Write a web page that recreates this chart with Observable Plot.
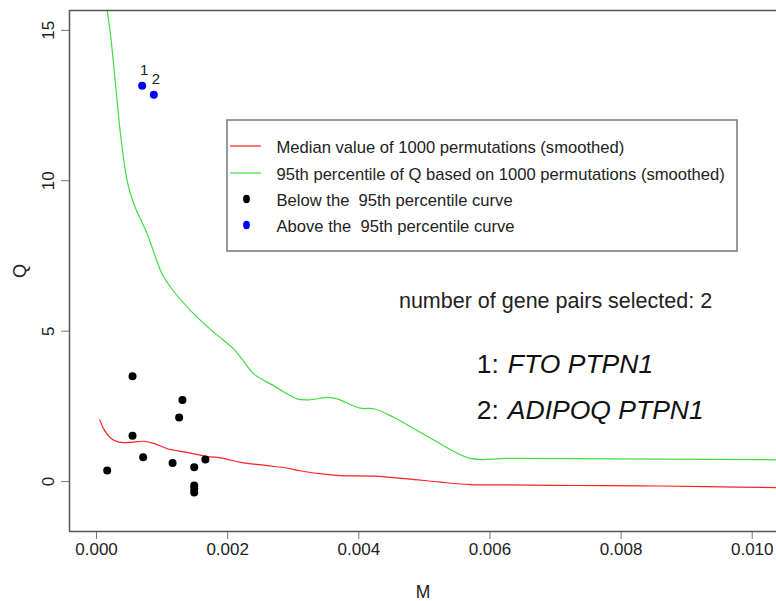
<!DOCTYPE html>
<html>
<head>
<meta charset="utf-8">
<script src="https://cdn.jsdelivr.net/npm/d3@7"></script>
<script src="https://cdn.jsdelivr.net/npm/@observablehq/plot@0.6"></script>
<style>
  html, body { margin: 0; padding: 0; background: #fff; }
  #wrap { position: relative; width: 776px; height: 601px; overflow: hidden; font-family: "Liberation Sans", Arial, Helvetica, sans-serif; }
  #wrap svg.overlay { position: absolute; left: 0; top: 0; pointer-events: none; }
  #wrap svg.overlay text { white-space: pre; }
</style>
</head>
<body>
<div id="wrap"></div>
<script>
// ---- data ----
const medianM = [0.00005, 0.000122, 0.000213, 0.00034, 0.00049, 0.00072, 0.000874, 0.00108, 0.00138, 0.00169, 0.00189, 0.0022, 0.0026, 0.0029, 0.0031, 0.0035, 0.00372, 0.00423, 0.00474, 0.00524, 0.0057, 0.00626, 0.00728, 0.00829, 0.00931, 0.0104];
const medianQ = [2.05, 1.70, 1.45, 1.31, 1.30, 1.34, 1.27, 1.09, 0.97, 0.83, 0.79, 0.64, 0.53, 0.45, 0.36, 0.24, 0.20, 0.18, 0.09, -0.02, -0.10, -0.11, -0.13, -0.14, -0.17, -0.20];

const p95M = [0.00013, 0.000163, 0.000213, 0.00029, 0.000366, 0.000467, 0.000569, 0.000773, 0.001, 0.00113, 0.00141, 0.00159, 0.00179, 0.00209, 0.0022, 0.0024, 0.0027, 0.00306, 0.00326, 0.00352, 0.00367, 0.00402, 0.00423, 0.00453, 0.00509, 0.0057, 0.00626, 0.00728, 0.01012, 0.0104];
const p95Q = [16.3, 15.67, 14.87, 13.21, 11.55, 10.0, 9.23, 8.23, 6.90, 6.46, 5.74, 5.35, 4.96, 4.41, 4.13, 3.58, 3.19, 2.75, 2.72, 2.80, 2.75, 2.44, 2.42, 2.14, 1.45, 0.77, 0.77, 0.76, 0.73, 0.72];

const belowM = [0.000549, 0.00131, 0.00126, 0.000549, 0.000711, 0.00116, 0.00166, 0.00149, 0.000163, 0.00149, 0.00149, 0.00149];
const belowQ = [3.50, 2.71, 2.13, 1.52, 0.81, 0.62, 0.73, 0.48, 0.37, -0.13, -0.24, -0.36];

const aboveM = [0.000696, 0.000874];
const aboveQ = [13.16, 12.86];
const aboveLabels = ["1", "2"];

const geneNums = ["1:", "2:"];
const geneNames = ["FTO PTPN1", "ADIPOQ PTPN1"];
const geneM = [0.0058, 0.0058];
const geneQ = [3.9, 2.35];
const countText = "number of gene pairs selected: 2";
const countM = [0.0070];
const countQ = [6.0];

const xTicks = [0, 0.002, 0.004, 0.006, 0.008, 0.010];
const yTicks = [0, 5, 10, 15];
const xDomain = [-0.000412, 0.01037];
const yDomain = [-1.66, 15.66];
const xLabel = "M";
const yLabel = "Q";

const legendLabels = [
  "Median value of 1000 permutations (smoothed)",
  "95th percentile of Q based on 1000 permutations (smoothed)",
  "Below the  95th percentile curve",
  "Above the  95th percentile curve"
];

const RED = "#ff2020", GREEN = "#40dd40", BLACK = "#000", BLUE = "#0000ff", AXIS = "#555";

const median = medianM.map((m, i) => ({M: m, Q: medianQ[i]}));
const p95 = p95M.map((m, i) => ({M: m, Q: p95Q[i]}));
const below = belowM.map((m, i) => ({M: m, Q: belowQ[i]}));
const above = aboveM.map((m, i) => ({M: m, Q: aboveQ[i], label: aboveLabels[i]}));
const genes = geneM.map((m, i) => ({M: m, Q: geneQ[i], num: geneNums[i], name: geneNames[i]}));
const counts = countM.map((m, i) => ({M: m, Q: countQ[i], t: countText}));

const font = "Liberation Sans, Arial, Helvetica, sans-serif";

const chart = Plot.plot({
  width: 776, height: 601,
  marginLeft: 69, marginRight: 0, marginTop: 10, marginBottom: 70,
  x: {domain: xDomain},
  y: {domain: yDomain},
  style: {fontFamily: font, fontSize: "17px", color: "#222", background: "#fff", overflow: "hidden"},
  marks: [
    Plot.axisX({ticks: xTicks, tickSize: 8, tickPadding: 3, tickFormat: d3.format(".3f"), label: null, fontSize: 17, stroke: "#777"}),
    Plot.axisY({ticks: yTicks, tickSize: 8, tickFormat: () => "", label: null, stroke: "#777"}),
    Plot.text(yTicks, {y: d => d, text: d => String(d), frameAnchor: "left", rotate: -90, dx: -15.5, lineAnchor: "bottom", textAnchor: "middle", fontSize: 17, fill: "#222"}),
    Plot.text([xLabel], {text: d => d, frameAnchor: "bottom", dy: 66, lineAnchor: "bottom", fontSize: 17.5, fill: "#222"}),
    Plot.text([yLabel], {text: d => d, frameAnchor: "left", rotate: -90, dx: -44, lineAnchor: "bottom", textAnchor: "middle", fontSize: 18, fill: "#222"}),
    Plot.line(median, {x: "M", y: "Q", stroke: RED, strokeWidth: 1.2, curve: "catmull-rom", clip: true}),
    Plot.line(p95, {x: "M", y: "Q", stroke: GREEN, strokeWidth: 1.2, curve: "catmull-rom", clip: true}),
    Plot.dot(below, {x: "M", y: "Q", r: 4, fill: BLACK, stroke: null}),
    Plot.dot(above, {x: "M", y: "Q", r: 4, fill: BLUE, stroke: null}),
    Plot.text(above, {x: "M", y: "Q", text: "label", dx: 2, dy: -11, lineAnchor: "bottom", fontSize: 15, fill: "#222"}),
    Plot.text(counts, {x: "M", y: "Q", text: "t", textAnchor: "middle", lineAnchor: "middle", fontSize: 21.5, fill: "#222"}),
    Plot.text(genes, {x: "M", y: "Q", text: "num", textAnchor: "start", lineAnchor: "middle", fontSize: 26.5, fill: "#111"}),
    Plot.text(genes, {x: "M", y: "Q", text: "name", dx: 31, textAnchor: "start", lineAnchor: "middle", fontSize: 26.5, fontStyle: "italic", fill: "#111"}),
    Plot.ruleX([xDomain[0]], {stroke: AXIS, strokeWidth: 1.5}),
    Plot.ruleY([yDomain[0], yDomain[1]], {stroke: AXIS, strokeWidth: 1.5})
  ]
});

const wrap = document.getElementById("wrap");
wrap.appendChild(chart);

// ---- legend overlay ----
const ov = d3.select(wrap).append("svg").attr("class", "overlay")
  .attr("width", 776).attr("height", 601)
  .attr("font-family", font);
ov.append("rect").attr("x", 227).attr("y", 120).attr("width", 510).attr("height", 131)
  .attr("fill", "#fff").attr("stroke", "#777").attr("stroke-width", 1.5);
const rows = [153, 180, 206, 232];
const kinds = [{type: "line", color: RED}, {type: "line", color: GREEN}, {type: "dot", color: BLACK}, {type: "dot", color: BLUE}];
kinds.forEach((k, i) => {
  const cy = rows[i] - 7;
  if (k.type === "line") {
    ov.append("line").attr("x1", 230).attr("x2", 261).attr("y1", cy).attr("y2", cy)
      .attr("stroke", k.color).attr("stroke-width", 1.2);
  } else {
    ov.append("ellipse").attr("cx", 246.5).attr("cy", cy).attr("rx", 3.4).attr("ry", 4.2)
      .attr("fill", k.color);
  }
  ov.append("text").attr("x", 276.5).attr("y", rows[i]).attr("font-size", 16.6)
    .attr("fill", "#222").attr("xml:space", "preserve").text(legendLabels[i]);
});
</script>
</body>
</html>
